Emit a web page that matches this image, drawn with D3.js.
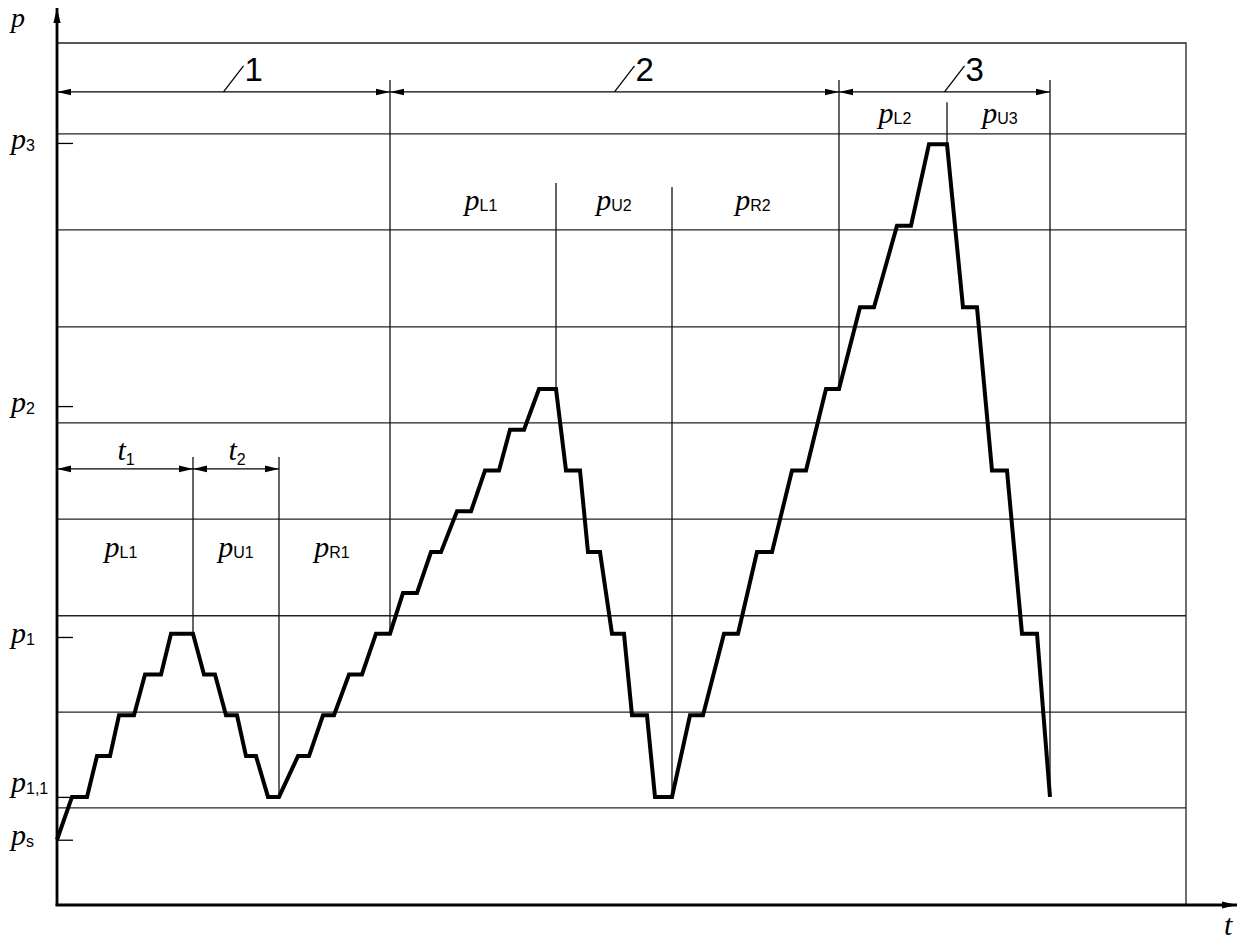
<!DOCTYPE html>
<html>
<head>
<meta charset="utf-8">
<script src="https://cdn.jsdelivr.net/npm/d3@7"></script>
<style>
  html, body { margin: 0; padding: 0; background: #fff; }
  svg { display: block; }
</style>
</head>
<body>
<svg id="chart" width="1243" height="943"></svg>
<script>
// ---- data (time in arbitrary units, pressure in load-step units) ----
const curveT = [0, 1.5, 3.0, 4.0, 5.3, 6.2, 7.7, 8.8, 10.4, 11.4, 13.6,
  14.7, 15.8, 16.9, 18.0, 18.9, 19.9, 21.1, 22.2,
  24.1, 25.2, 26.6, 27.7, 29.2, 30.5, 31.9, 33.3,
  34.6, 36.0, 37.4, 38.4, 40.0, 41.4, 42.8, 44.2, 45.3, 46.7, 48.2, 49.9,
  50.9, 52.3, 53.1, 54.3, 55.5, 56.7, 57.5, 59.0, 59.8, 61.5,
  63.3, 64.6, 66.7, 68.1, 70.0, 71.5, 73.5, 74.9, 76.9, 78.2,
  80.3, 81.7, 84.0, 85.4, 87.2, 89.0,
  90.6, 92.0, 93.5, 95.0, 96.5, 98.0, 99.3];
const curveP = [-1.05, 0, 0, 1, 1, 2, 2, 3, 3, 4, 4,
  3, 3, 2, 2, 1, 1, 0, 0,
  1, 1, 2, 2, 3, 3, 4, 4,
  5, 5, 6, 6, 7, 7, 8, 8, 9, 9, 10, 10,
  8, 8, 6, 6, 4, 4, 2, 2, 0, 0,
  2, 2, 4, 4, 6, 6, 8, 8, 10, 10,
  12, 12, 14, 14, 16, 16,
  12, 12, 8, 8, 4, 4, 0];

const gridP = [-0.27, 2.08, 4.44, 6.81, 9.17, 11.52, 13.9, 16.25];

const yTickValues = [16.03, 9.58, 3.92, 0, -1.05];
const yTickSubs   = ["3", "2", "1", "1,1", "s"];
const yTickLabelShift = [6, 6, 6, -5, 5];

const sectionNames  = ["1", "2", "3"];
const sectionBounds = [0, 33.3, 78.2, 99.3];
const sectionDimP = 17.28;

const dividerT   = [13.6, 22.2, 33.3, 49.9, 61.5, 78.2, 89.0, 99.3];
const dividerTop = [8.33, 8.33, 17.57, 15.05, 14.95, 17.57, 17.03, 17.57];
const dividerBot = [4, 0, 4, 10, 0, 10, 16, 0];

const phaseSubs = ["L1", "U1", "R1", "L1", "U2", "R2", "L2", "U3"];
const phaseT    = [6.4, 17.9, 27.5, 42.4, 55.7, 69.6, 83.8, 94.3];
const phaseP    = [5.88, 5.88, 5.88, 14.39, 14.39, 14.39, 16.52, 16.52];

const durSubs   = ["1", "2"];
const durBounds = [0, 13.6, 22.2];
const durDimP   = 8.04;
const durLabelP = 8.26;

// ---- scales ----
const x = d3.scaleLinear().domain([0, 112.9]).range([57, 1186]);
const y = d3.scaleLinear().domain([-2.65, 18.48]).range([905, 43]);

const svg = d3.select("#chart");
const serif = "'Liberation Serif', 'Times New Roman', serif";
const sans = "'Liberation Sans', Arial, sans-serif";
const P_SIZE = 30, SUB_SIZE = 16;

const defs = svg.append("defs");
defs.append("marker")
  .attr("id", "arr").attr("markerUnits", "userSpaceOnUse")
  .attr("viewBox", "0 -4 14 8").attr("refX", 14).attr("refY", 0)
  .attr("markerWidth", 14).attr("markerHeight", 8)
  .attr("orient", "auto-start-reverse")
  .append("path").attr("d", "M0,-3.3L14,0L0,3.3Z").attr("fill", "#000");
defs.append("marker")
  .attr("id", "axarr").attr("markerUnits", "userSpaceOnUse")
  .attr("viewBox", "0 -5 15 10").attr("refX", 15).attr("refY", 0)
  .attr("markerWidth", 15).attr("markerHeight", 10)
  .attr("orient", "auto")
  .append("path").attr("d", "M0,-3.6L15,0L0,3.6Z").attr("fill", "#000");

const [x0, x1] = x.range();
const [yb, yt] = y.range();

// grid lines
svg.append("g").selectAll("line").data(gridP).join("line")
  .attr("x1", x0).attr("x2", x1)
  .attr("y1", d => y(d)).attr("y2", d => y(d))
  .attr("stroke", "#222").attr("stroke-width", 1.3);

// frame (top + right)
svg.append("path")
  .attr("d", `M${x0},${yt}H${x1}V${yb}`)
  .attr("fill", "none").attr("stroke", "#222").attr("stroke-width", 1.3);

// dividers
svg.append("g").selectAll("line").data(dividerT).join("line")
  .attr("x1", d => x(d)).attr("x2", d => x(d))
  .attr("y1", (d, i) => y(dividerTop[i])).attr("y2", (d, i) => y(dividerBot[i]))
  .attr("stroke", "#111").attr("stroke-width", 1.3);

// y ticks (inside, short)
const yAxis = d3.axisRight(y).tickValues(yTickValues).tickSize(16).tickFormat("");
const gy = svg.append("g").attr("transform", `translate(${x0},0)`).call(yAxis);
gy.select(".domain").remove();
gy.selectAll(".tick line").attr("stroke", "#000").attr("stroke-width", 1.3);

// y tick labels
const ylab = svg.append("g").selectAll("text").data(yTickValues).join("text")
  .attr("x", 11).attr("y", (d, i) => y(d) + yTickLabelShift[i]);
ylab.append("tspan").text("p")
  .attr("font-family", serif).attr("font-style", "italic").attr("font-size", P_SIZE);
ylab.append("tspan").text((d, i) => yTickSubs[i])
  .attr("font-family", sans).attr("font-size", SUB_SIZE).attr("dy", 2);

// axes with arrows
svg.append("line").attr("x1", x0).attr("x2", x0).attr("y1", yb + 1).attr("y2", 8)
  .attr("stroke", "#000").attr("stroke-width", 2.8).attr("marker-end", "url(#axarr)");
svg.append("line").attr("x1", x0 - 1.4).attr("x2", 1237).attr("y1", yb).attr("y2", yb)
  .attr("stroke", "#000").attr("stroke-width", 2.8).attr("marker-end", "url(#axarr)");

svg.append("text").attr("x", 11).attr("y", 27).text("p")
  .attr("font-family", serif).attr("font-style", "italic").attr("font-size", 28);
svg.append("text").attr("x", 1224).attr("y", 935).text("t")
  .attr("font-family", serif).attr("font-style", "italic").attr("font-size", P_SIZE);

// section dimension arrows
const secIdx = d3.range(sectionNames.length);
svg.append("g").selectAll("line").data(secIdx).join("line")
  .attr("x1", i => x(sectionBounds[i])).attr("x2", i => x(sectionBounds[i + 1]))
  .attr("y1", y(sectionDimP)).attr("y2", y(sectionDimP))
  .attr("stroke", "#000").attr("stroke-width", 1.3)
  .attr("marker-start", "url(#arr)").attr("marker-end", "url(#arr)");
svg.append("g").selectAll("line").data(secIdx).join("line")
  .attr("x1", i => x((sectionBounds[i] + sectionBounds[i + 1]) / 2))
  .attr("x2", i => x((sectionBounds[i] + sectionBounds[i + 1]) / 2) + 20)
  .attr("y1", y(sectionDimP)).attr("y2", y(sectionDimP) - 26)
  .attr("stroke", "#000").attr("stroke-width", 1.3);
svg.append("g").selectAll("text").data(secIdx).join("text")
  .attr("x", i => x((sectionBounds[i] + sectionBounds[i + 1]) / 2) + 21)
  .attr("y", y(sectionDimP) - 11)
  .attr("font-family", sans).attr("font-size", 33)
  .text(i => sectionNames[i]);

// duration arrows t1, t2
const durIdx = d3.range(durSubs.length);
svg.append("g").selectAll("line").data(durIdx).join("line")
  .attr("x1", i => x(durBounds[i])).attr("x2", i => x(durBounds[i + 1]))
  .attr("y1", y(durDimP)).attr("y2", y(durDimP))
  .attr("stroke", "#000").attr("stroke-width", 1.3)
  .attr("marker-start", "url(#arr)").attr("marker-end", "url(#arr)");
const tl = svg.append("g").selectAll("text").data(durIdx).join("text")
  .attr("x", i => x((durBounds[i] + durBounds[i + 1]) / 2) + 1)
  .attr("y", y(durLabelP)).attr("text-anchor", "middle");
tl.append("tspan").text("t")
  .attr("font-family", serif).attr("font-style", "italic").attr("font-size", P_SIZE);
tl.append("tspan").text(i => durSubs[i])
  .attr("font-family", sans).attr("font-size", SUB_SIZE).attr("dy", 5);

// phase labels
const pl = svg.append("g").selectAll("text").data(phaseSubs).join("text")
  .attr("x", (d, i) => x(phaseT[i])).attr("y", (d, i) => y(phaseP[i]))
  .attr("text-anchor", "middle");
pl.append("tspan").text("p")
  .attr("font-family", serif).attr("font-style", "italic").attr("font-size", P_SIZE);
pl.append("tspan").text(d => d)
  .attr("font-family", sans).attr("font-size", SUB_SIZE).attr("dy", 1);

// pressure curve
const line = d3.line().x(d => x(d[0])).y(d => y(d[1]));
svg.append("path")
  .datum(curveT.map((t, i) => [t, curveP[i]]))
  .attr("d", line)
  .attr("fill", "none").attr("stroke", "#000").attr("stroke-width", 4)
  .attr("stroke-linejoin", "miter").attr("stroke-linecap", "butt");
</script>
</body>
</html>
